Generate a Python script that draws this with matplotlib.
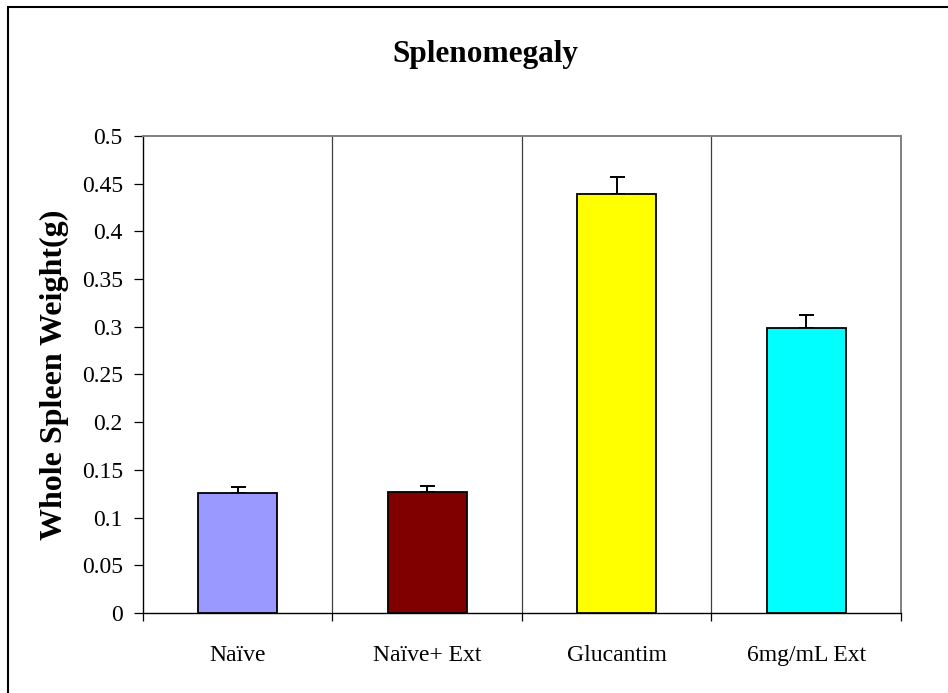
import numpy as np
import matplotlib.pyplot as plt
from matplotlib.patches import Rectangle

plt.rcParams['font.family'] = ['Liberation Serif', 'DejaVu Serif']

# data
groups = ["Naïve", "Naïve+ Ext", "Glucantim", "6mg/mL Ext"]
weights = [0.126, 0.127, 0.439, 0.299]
errors = [0.006, 0.006, 0.018, 0.013]
colors = ["#9999FF", "#800000", "#FFFF00", "#00FFFF"]

fig = plt.figure(figsize=(9.48, 6.93), dpi=100)
ax = fig.add_axes([0.1508, 0.1154, 0.7996, 0.6884])

x = np.arange(len(groups))
ax.bar(x, weights, width=0.417, color=colors, edgecolor="black", linewidth=1.3,
       zorder=3)
ax.errorbar(x, weights, yerr=[np.zeros(len(errors)), errors], fmt="none",
            ecolor="black", elinewidth=1.4, capsize=5.4, capthick=1.4, zorder=2)

ax.set_xlim(-0.5, len(groups) - 0.5)
ax.set_ylim(0, 0.5)
ax.set_yticks(np.arange(0, 0.51, 0.05))
ax.set_yticklabels(["0", "0.05", "0.1", "0.15", "0.2", "0.25", "0.3", "0.35",
                    "0.4", "0.45", "0.5"])

# category separators
bounds = np.arange(-0.5, len(groups), 1.0)
for b in bounds[1:-1]:
    ax.axvline(b, color="#404040", linewidth=0.9, zorder=1)

ax.set_xticks(bounds)
ax.set_xticklabels([])
ax.set_xticks(x, minor=True)
ax.set_xticklabels(groups, minor=True)
ax.tick_params(axis="x", which="major", direction="out", length=6, width=0.9)
ax.tick_params(axis="x", which="minor", length=0, pad=23, labelsize=17)
ax.tick_params(axis="y", direction="out", length=6.5, width=0.9, pad=8,
               labelsize=17)

for side in ["top", "right"]:
    ax.spines[side].set_color("#808080")
    ax.spines[side].set_linewidth(1.4)
for side in ["left", "bottom"]:
    ax.spines[side].set_color("black")
    ax.spines[side].set_linewidth(1.0)

ax.set_ylabel("Whole Spleen Weight(g)", fontsize=23, fontweight="bold",
              labelpad=9)
fig.text(0.512, 0.922, "Splenomegaly", ha="center", va="center", fontsize=22.5,
         fontweight="bold")

fig.add_artist(Rectangle((0.0084, -0.05), 1.1, 1.0399, transform=fig.transFigure,
                         fill=False, edgecolor="black", linewidth=1.5))

fig.savefig("out.png", dpi=100)
